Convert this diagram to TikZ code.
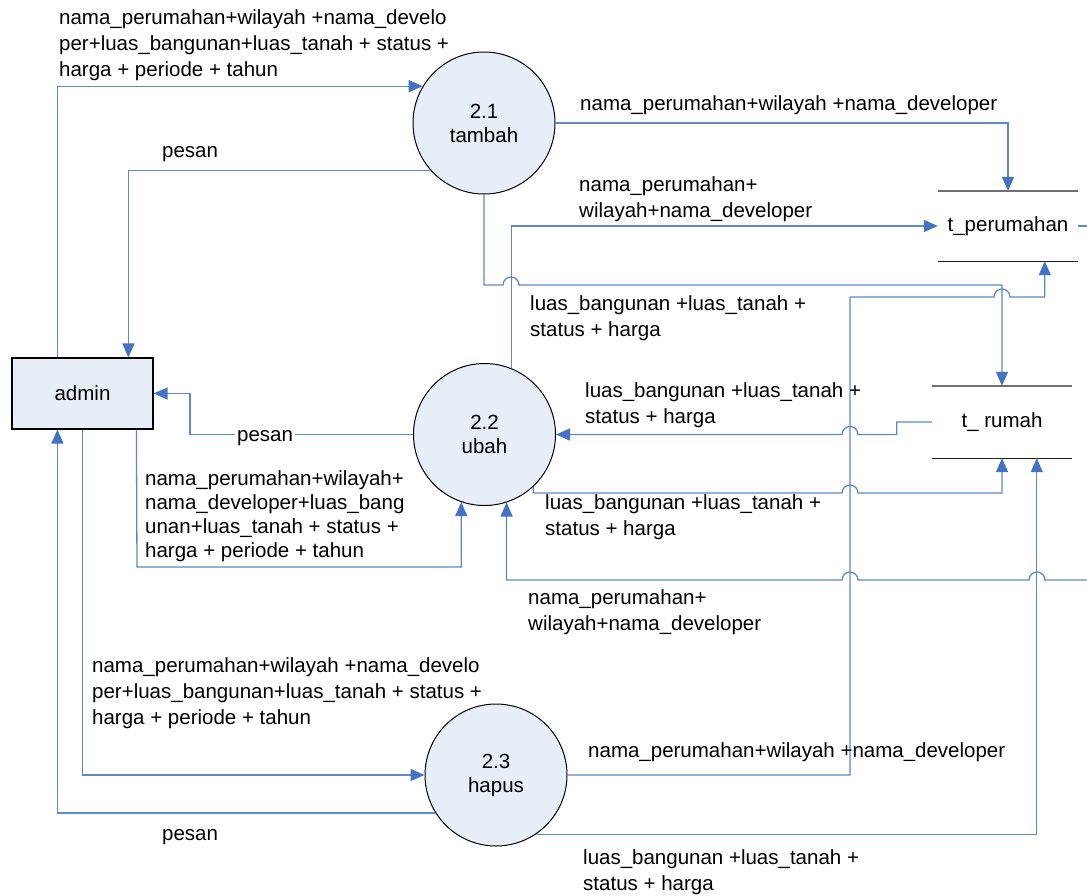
\documentclass[tikz,border=0pt]{standalone}
\usepackage{fontspec}
\setmainfont{Liberation Sans}
\usetikzlibrary{arrows.meta}
\definecolor{lineblue}{RGB}{96,136,198}
\definecolor{tipblue}{RGB}{68,114,196}
\definecolor{procfill}{RGB}{232,238,248}
\definecolor{storetop}{RGB}{112,112,112}
\definecolor{storebot}{RGB}{30,30,30}
\newcommand\dfdfont{\fontsize{20.5}{26}\selectfont}
\newcommand\dfdtight{\fontsize{20.5}{24}\selectfont}
\tikzset{
  plain/.style={draw=lineblue, line width=1.3pt},
  flow/.style={plain, -{Triangle[length=14pt,width=12pt,color=tipblue]}},
  proc/.style={circle, draw=black, line width=1pt, fill=procfill, minimum size=142pt,
    inner sep=0pt, align=center, font=\dfdtight},
  entity/.style={rectangle, draw=black, line width=1.2pt, fill=procfill,
    minimum width=141pt, minimum height=71pt, inner sep=0pt, font=\dfdfont},
  store/.style={rectangle, minimum width=140pt, minimum height=70pt, inner sep=0pt, font=\dfdfont},
  lbl/.style={anchor=base west, align=left, inner sep=0pt, font=\dfdfont},
}
\begin{document}
\begin{tikzpicture}[x=1pt,y=-1pt]
\useasboundingbox (0,0) rectangle (1087,895);
% nodes
\node[entity] (admin) at (82.5,393.5) {admin};
\node[proc] (p21) at (484,123) {2.1\\tambah};
\node[proc] (p22) at (484.5,434.5) {2.2\\ubah};
\node[proc] (p23) at (496,775) {2.3\\hapus};
\node[store] (st1) at (1008,226) {t\_perumahan};
\node[store, minimum height=72pt] (st2) at (1002,422) {t\_ rumah};
\draw[storetop, line width=1.4pt] (st1.north west) -- (st1.north east);
\draw[storebot, line width=1.4pt] (st1.south west) -- (st1.south east);
\draw[storetop, line width=1.4pt] (st2.north west) -- (st2.north east);
\draw[storebot, line width=1.4pt] (st2.south west) -- (st2.south east);
% helper coordinates
\coordinate (k1) at (190,393.5);
% connectors
\draw[flow] ([xshift=46pt]admin.north west) |- (p21.149.5);
\draw[flow] (p21.222.7) -| ([xshift=117pt]admin.north west);
\draw[flow] (p21.east) -| (st1.north);
\draw[flow] (p21.south) |- (503,285) arc[start angle=180,end angle=0,radius=8pt] -| (st2.north);
\draw[flow] (p23.east) -- (850,775) -- (850,297) -- (994,297) arc[start angle=180,end angle=0,radius=8pt] -| ([xshift=107pt]st1.south west);
\draw[flow] (p22.68.1) |- (st1.west);
\draw[flow] (st2.west) -- ++(-35,0) |- (858,434.5) arc[start angle=0,end angle=180,radius=8pt] -- (p22.east);
\draw[flow] (p22.-47.9) |- (842,493) arc[start angle=180,end angle=0,radius=8pt] -| (st2.south);
\draw[flow] (p23.-56.2) -| ([xshift=105pt]st2.south west);
\draw[plain] (st1.east) -- ++(20,0);
\draw[flow] (1095,580) -- (1045,580) arc[start angle=0,end angle=180,radius=8pt] -- (858,580) arc[start angle=0,end angle=180,radius=8pt] -| (p22.-72.4);
\draw[flow] (p22.west) -| (k1) -- (admin.east);
\draw[flow] ([xshift=125pt]admin.south west) -- (137,567) -| (p22.-109.3);
\draw[flow] ([xshift=71pt]admin.south west) |- (p23.west);
\draw[flow] (p23.212.3) -| ([xshift=46pt]admin.south west);
% labels (anchor = baseline of the last line)
\node[lbl] (l1) at (59,76) {nama\_perumahan+wilayah +nama\_develo\\per+luas\_bangunan+luas\_tanah + status +\\harga + periode + tahun};
\node[lbl] (l2) at (162,157) {pesan};
\node[lbl] (l3) at (580,110) {nama\_perumahan+wilayah +nama\_developer};
\node[lbl] (l4) at (579,217) {nama\_perumahan+\\wilayah+nama\_developer};
\node[lbl] (l5) at (530,336) {luas\_bangunan +luas\_tanah +\\status + harga};
\node[lbl] (l6) at (585,423) {luas\_bangunan +luas\_tanah +\\status + harga};
\node[lbl, fill=white, inner xsep=2pt, inner ysep=1pt] (l7) at (235,441) {pesan};
\node[lbl, font=\dfdtight] (l8) at (145,557) {nama\_perumahan+wilayah+\\nama\_developer+luas\_bang\\unan+luas\_tanah + status +\\harga + periode + tahun};
\node[lbl] (l9) at (545,535) {luas\_bangunan +luas\_tanah +\\status + harga};
\node[lbl] (l10) at (528,630) {nama\_perumahan+\\wilayah+nama\_developer};
\node[lbl] (l11) at (92,724) {nama\_perumahan+wilayah +nama\_develo\\per+luas\_bangunan+luas\_tanah + status +\\harga + periode + tahun};
\node[lbl] (l12) at (588,757) {nama\_perumahan+wilayah +nama\_developer};
\node[lbl] (l13) at (162,840) {pesan};
\node[lbl] (l14) at (583,890) {luas\_bangunan +luas\_tanah +\\status + harga};
\end{tikzpicture}
\end{document}
